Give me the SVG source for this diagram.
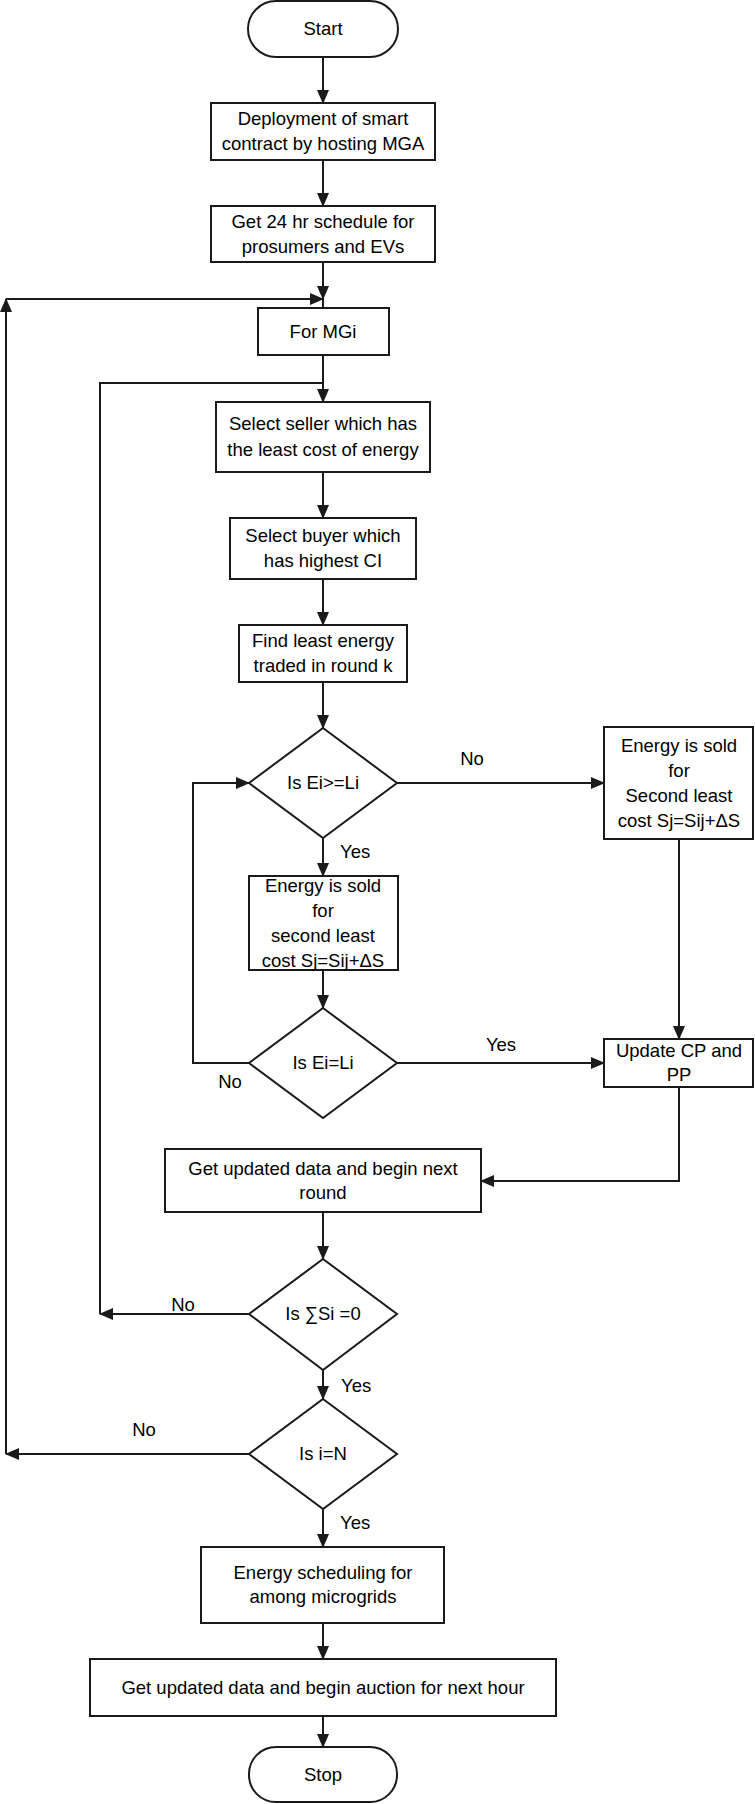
<svg xmlns="http://www.w3.org/2000/svg" width="755" height="1804" viewBox="0 0 755 1804">
<style>
.s{fill:#fff;stroke:#1a1a1a;stroke-width:2}
.c{fill:none;stroke:#1a1a1a;stroke-width:2}
text{font-family:"Liberation Sans",Arial,sans-serif;font-size:18.5px;fill:#000;text-anchor:middle}
.l{text-anchor:start}
</style>
<defs>
<marker id="ah" markerUnits="userSpaceOnUse" markerWidth="14" markerHeight="12" refX="13" refY="6" orient="auto">
<path d="M0,0 L14,6 L0,12 z" fill="#1a1a1a"/>
</marker>
</defs>
<rect width="755" height="1804" fill="#fff"/>
<g id="connectors">
<path class="c" d="M323,57 V103" marker-end="url(#ah)"/>
<path class="c" d="M323,160 V206" marker-end="url(#ah)"/>
<path class="c" d="M323,262 V299" marker-end="url(#ah)"/>
<path class="c" d="M323,299 V308"/>
<path class="c" d="M323,355 V402" marker-end="url(#ah)"/>
<path class="c" d="M323,472 V518" marker-end="url(#ah)"/>
<path class="c" d="M323,579 V625" marker-end="url(#ah)"/>
<path class="c" d="M323,682 V728" marker-end="url(#ah)"/>
<path class="c" d="M397,783 H604" marker-end="url(#ah)"/>
<path class="c" d="M323,838 V876" marker-end="url(#ah)"/>
<path class="c" d="M323,970 V1008" marker-end="url(#ah)"/>
<path class="c" d="M249,1063 H193 V783 H249" marker-end="url(#ah)"/>
<path class="c" d="M397,1063 H604" marker-end="url(#ah)"/>
<path class="c" d="M679,839 V1039" marker-end="url(#ah)"/>
<path class="c" d="M679,1087 V1181 H481" marker-end="url(#ah)"/>
<path class="c" d="M323,1212 V1259" marker-end="url(#ah)"/>
<path class="c" d="M249,1314 H100" marker-end="url(#ah)"/>
<path class="c" d="M100,1314 V383 H323"/>
<path class="c" d="M323,1370 V1399" marker-end="url(#ah)"/>
<path class="c" d="M249,1454 H6" marker-end="url(#ah)"/>
<path class="c" d="M6,1454 V299" marker-end="url(#ah)"/>
<path class="c" d="M6,299 H323" marker-end="url(#ah)"/>
<path class="c" d="M323,1509 V1547" marker-end="url(#ah)"/>
<path class="c" d="M323,1623 V1659" marker-end="url(#ah)"/>
<path class="c" d="M323,1716 V1747" marker-end="url(#ah)"/>
<text x="472" y="765">No</text>
<text class="l" x="340" y="858">Yes</text>
<text x="230" y="1088">No</text>
<text x="501" y="1051">Yes</text>
<text x="183" y="1311">No</text>
<text class="l" x="341" y="1392">Yes</text>
<text x="144" y="1436">No</text>
<text class="l" x="340" y="1529">Yes</text>
</g>
<g id="start">
<rect class="s" x="248" y="1" width="150" height="56" rx="28"/>
<text x="323" y="35">Start</text>
</g>
<g id="deploy">
<rect class="s" x="211" y="103" width="224" height="57"/>
<text x="323" y="125">Deployment of smart</text>
<text x="323" y="150">contract by hosting MGA</text>
</g>
<g id="schedule">
<rect class="s" x="211" y="206" width="224" height="56"/>
<text x="323" y="228">Get 24 hr schedule for</text>
<text x="323" y="253">prosumers and EVs</text>
</g>
<g id="formgi">
<rect class="s" x="258" y="308" width="131" height="47"/>
<text x="323" y="338">For MGi</text>
</g>
<g id="seller">
<rect class="s" x="216" y="402" width="214" height="70"/>
<text x="323" y="430">Select seller which has</text>
<text x="323" y="456">the least cost of energy</text>
</g>
<g id="buyer">
<rect class="s" x="230" y="518" width="186" height="61"/>
<text x="323" y="542">Select buyer which</text>
<text x="323" y="567">has highest CI</text>
</g>
<g id="find">
<rect class="s" x="239" y="625" width="168" height="57"/>
<text x="323" y="647">Find least energy</text>
<text x="323" y="672">traded in round k</text>
</g>
<g id="d1">
<polygon class="s" points="323,728 397,783 323,838 249,783"/>
<text x="323" y="789">Is Ei&gt;=Li</text>
</g>
<g id="soldRight">
<rect class="s" x="604" y="727" width="149" height="112"/>
<text x="679" y="752">Energy is sold</text>
<text x="679" y="777">for</text>
<text x="679" y="802">Second least</text>
<text x="679" y="827">cost Sj=Sij+ΔS</text>
</g>
<g id="soldMid">
<rect class="s" x="249" y="876" width="149" height="94"/>
<text x="323" y="892">Energy is sold</text>
<text x="323" y="917">for</text>
<text x="323" y="942">second least</text>
<text x="323" y="967">cost Sj=Sij+ΔS</text>
</g>
<g id="d2">
<polygon class="s" points="323,1008 397,1063 323,1118 249,1063"/>
<text x="323" y="1069">Is Ei=Li</text>
</g>
<g id="update">
<rect class="s" x="604" y="1039" width="149" height="48"/>
<text x="679" y="1057">Update CP and</text>
<text x="679" y="1081">PP</text>
</g>
<g id="nextround">
<rect class="s" x="165" y="1149" width="316" height="63"/>
<text x="323" y="1175">Get updated data and begin next</text>
<text x="323" y="1199">round</text>
</g>
<g id="d3">
<polygon class="s" points="323,1259 397,1314 323,1370 249,1314"/>
<text x="323" y="1320">Is ∑Si =0</text>
</g>
<g id="d4">
<polygon class="s" points="323,1399 397,1454 323,1509 249,1454"/>
<text x="323" y="1460">Is i=N</text>
</g>
<g id="scheduling">
<rect class="s" x="201" y="1547" width="243" height="76"/>
<text x="323" y="1579">Energy scheduling for</text>
<text x="323" y="1603">among microgrids</text>
</g>
<g id="auction">
<rect class="s" x="90" y="1659" width="466" height="57"/>
<text x="323" y="1694">Get updated data and begin auction for next hour</text>
</g>
<g id="stop">
<rect class="s" x="249" y="1747" width="148" height="55" rx="27"/>
<text x="323" y="1781">Stop</text>
</g>
</svg>
